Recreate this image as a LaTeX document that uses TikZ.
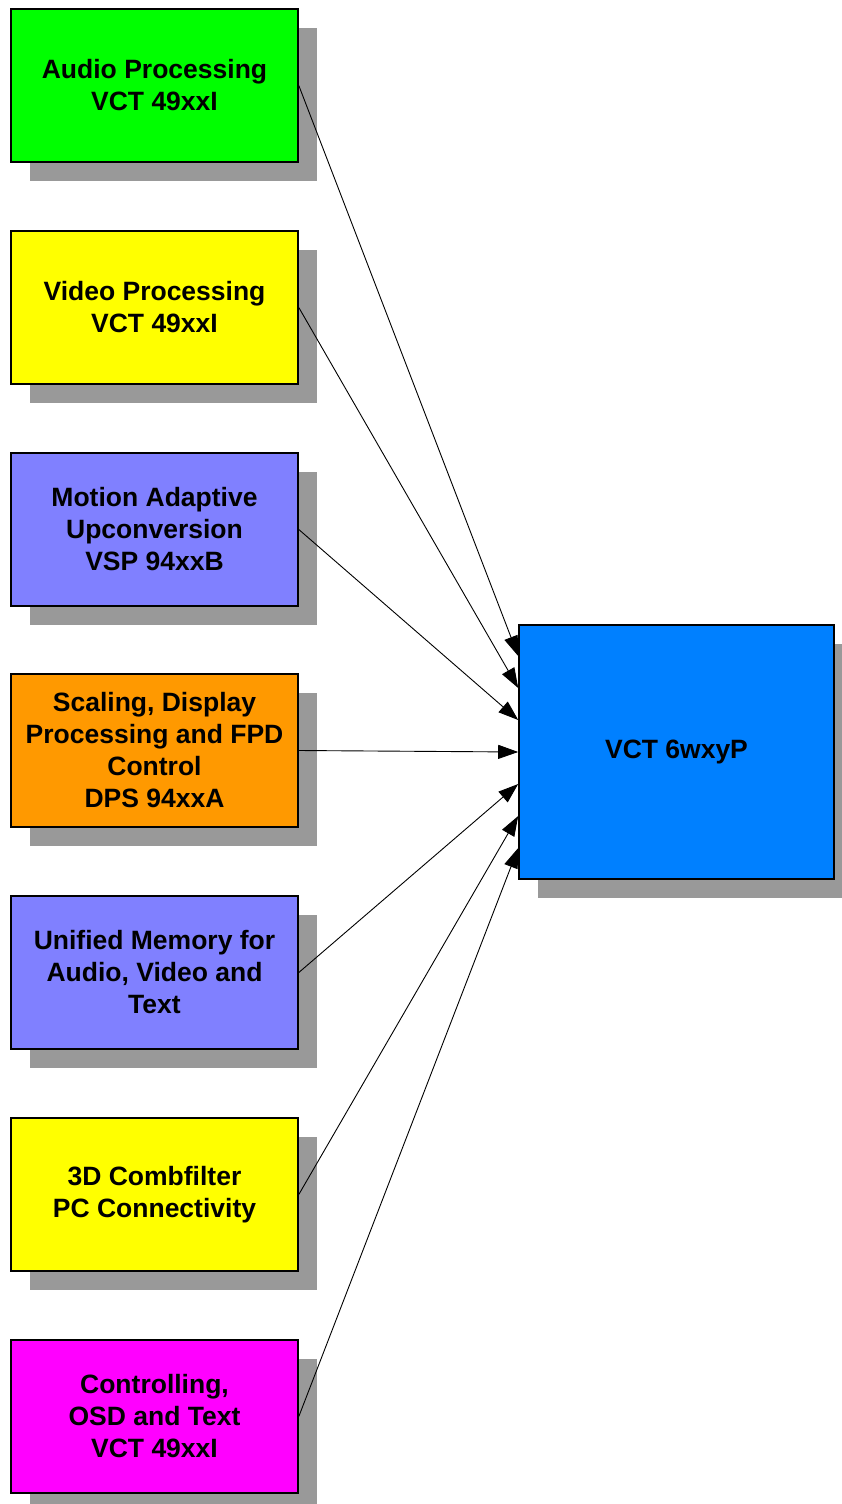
\documentclass[tikz,border=0pt]{standalone}
\usepackage{fontspec}
\setmainfont{Liberation Sans}
\usetikzlibrary{shadows,arrows.meta}
\definecolor{cgreen}{RGB}{0,255,0}
\definecolor{cyellow}{RGB}{255,255,0}
\definecolor{cpurple}{RGB}{128,128,255}
\definecolor{corange}{RGB}{255,153,0}
\definecolor{cmagenta}{RGB}{255,0,255}
\definecolor{cblue}{RGB}{0,128,255}
\definecolor{cshadow}{RGB}{153,153,153}
\tikzset{
  boxbase/.style={draw=black, line width=1.6pt, align=center, inner sep=0pt,
    font={\fontsize{26.5}{32}\selectfont\bfseries},
    drop shadow={shadow xshift=19pt, shadow yshift=-19pt, fill=cshadow, opacity=1}},
  srcbox/.style={boxbase, minimum width=287pt, minimum height=153pt},
  dstbox/.style={boxbase, minimum width=315pt, minimum height=254pt},
  conn/.style={line width=0.9pt, -{Triangle[length=20pt,width=14pt]}}
}
\begin{document}
\begin{tikzpicture}[x=1pt,y=-1pt]
\useasboundingbox (0,0) rectangle (842,1504);
\node[srcbox, fill=cgreen]   (a1) at (154.5,85.5)  {Audio Processing\\VCT 49xxI};
\node[srcbox, fill=cyellow]  (a2) at (154.5,307.5) {Video Processing\\VCT 49xxI};
\node[srcbox, fill=cpurple]  (a3) at (154.5,529.5) {Motion Adaptive\\Upconversion\\VSP 94xxB};
\node[srcbox, fill=corange]  (a4) at (154.5,750.5) {Scaling, Display\\Processing and FPD\\Control\\DPS 94xxA};
\node[srcbox, fill=cpurple]  (a5) at (154.5,972.5) {Unified Memory for\\Audio, Video and\\Text};
\node[srcbox, fill=cyellow]  (a6) at (154.5,1194.5) {3D Combfilter\\PC Connectivity};
\node[srcbox, fill=cmagenta] (a7) at (154.5,1416.5) {Controlling,\\OSD and Text\\VCT 49xxI};
\node[dstbox, fill=cblue]    (v)  at (676.5,752) {VCT 6wxyP};
\coordinate (e1) at ([yshift=96pt]v.west);
\coordinate (e2) at ([yshift=64pt]v.west);
\coordinate (e3) at ([yshift=32pt]v.west);
\coordinate (e4) at ([yshift=0pt]v.west);
\coordinate (e5) at ([yshift=-32pt]v.west);
\coordinate (e6) at ([yshift=-64pt]v.west);
\coordinate (e7) at ([yshift=-96pt]v.west);
\draw[conn] (a1.east) -- (e1);
\draw[conn] (a2.east) -- (e2);
\draw[conn] (a3.east) -- (e3);
\draw[conn] (a4.east) -- (e4);
\draw[conn] (a5.east) -- (e5);
\draw[conn] (a6.east) -- (e6);
\draw[conn] (a7.east) -- (e7);
\end{tikzpicture}
\end{document}
